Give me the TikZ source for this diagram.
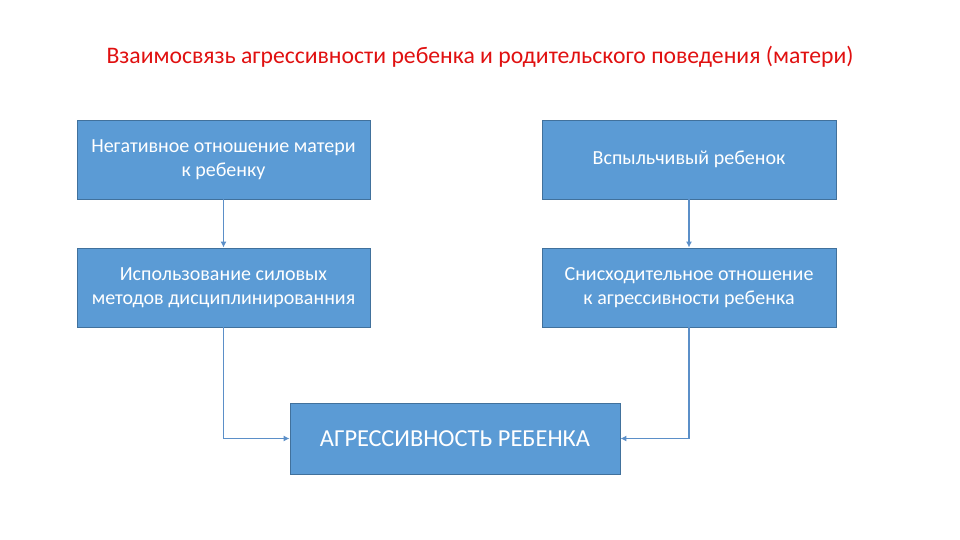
\documentclass[tikz,border=0pt]{standalone}
\usepackage{fontspec}
\setmainfont{Carlito}
\usetikzlibrary{arrows.meta}
\definecolor{boxfill}{HTML}{5B9BD5}
\definecolor{boxline}{HTML}{41719C}
\definecolor{arrowc}{HTML}{5B8FC8}
\definecolor{titlered}{HTML}{E01010}
\tikzset{
  box/.style={draw=boxline, line width=0.8pt, fill=boxfill, text=white, align=center, inner sep=0pt, font=\fontsize{20}{24}\selectfont},
  conn/.style={draw=arrowc, line width=1.2pt, -{Latex[length=6pt,width=6pt]}}
}
\begin{document}
\begin{tikzpicture}[x=1pt,y=-1pt]
\useasboundingbox (0,0) rectangle (960,540);
\node[text=titlered, font=\fontsize{23.7}{28}\selectfont] (title) at (480,57) {Взаимосвязь агрессивности ребенка и родительского поведения (матери)};
\node[box, minimum width=293pt, minimum height=79pt] (b1) at (223.5,159.5) {Негативное отношение матери\\к ребенку};
\node[box, minimum width=294pt, minimum height=79pt] (b2) at (689,159.5) {Вспыльчивый ребенок};
\node[box, minimum width=293pt, minimum height=79pt] (b3) at (223.5,287.5) {Использование силовых\\методов дисциплинированния};
\node[box, minimum width=294pt, minimum height=79pt] (b4) at (689,287.5) {Снисходительное отношение\\к агрессивности ребенка};
\node[box, minimum width=330pt, minimum height=71pt, font=\fontsize{24.4}{28}\selectfont] (b5) at (455,438.5) {АГРЕССИВНОСТЬ РЕБЕНКА};
\draw[conn] (b1) -- (b3);
\draw[conn] (b2) -- (b4);
\draw[conn] (b3.south) |- (b5.west);
\draw[conn] (b4.south) |- (b5.east);
\end{tikzpicture}
\end{document}
